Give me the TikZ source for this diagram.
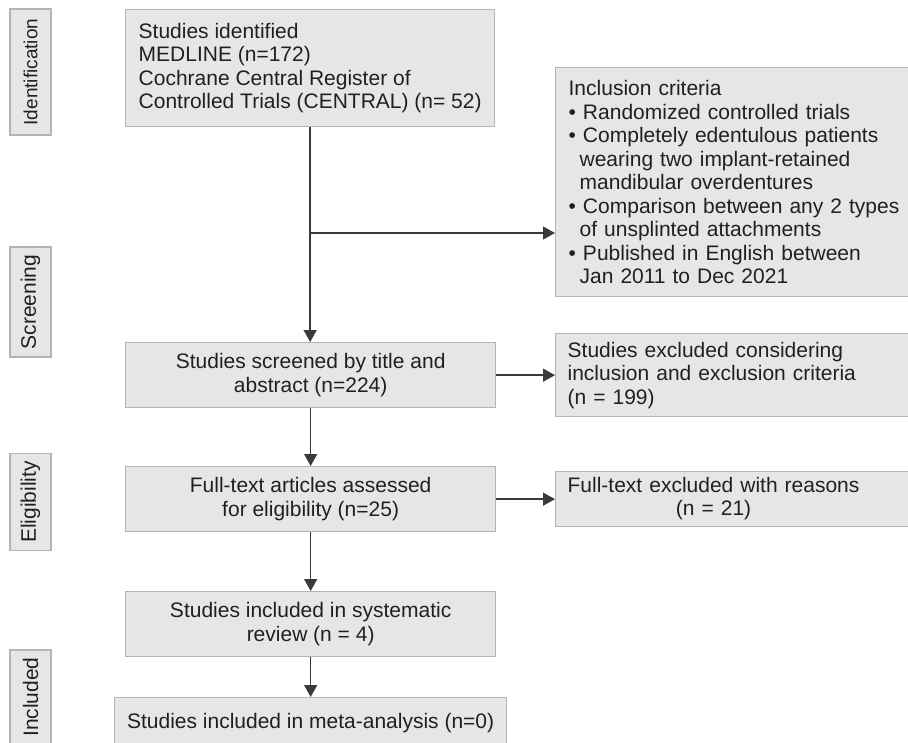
\documentclass[tikz,border=0pt]{standalone}
\usepackage{fontspec}
\setmainfont{Liberation Sans}
\usetikzlibrary{calc,arrows.meta,positioning}
\definecolor{boxfill}{HTML}{E6E6E8}
\definecolor{boxline}{HTML}{B4B4B4}
\definecolor{arrline}{HTML}{3A3A3A}
\definecolor{txtcol}{HTML}{231F20}

\begin{document}
\begin{tikzpicture} [x=1pt,y=-1pt,{box/.style={rectangle,draw=boxline,fill=boxfill,line width=1.3pt,text=txtcol,font=\fontsize{21}{23.5}\selectfont,inner sep=0pt,anchor=north west}},{phase/.style={box,anchor=center,rotate=90,minimum height=41}},{arr/.style={draw=arrline,line width=1.4pt,-{Triangle[length=12pt,width=13pt]}}}]
	%%frame of the page
	\useasboundingbox (0,0) rectangle (908,742);
	%%phase labels
	\node [phase,minimum width=126,font=\fontsize{19}{22}\selectfont] (lident) at (30.5,72) {Identification};
	\node [phase,minimum width=110] (lscreen) at (30.5,302) {Screening};
	\node [phase,minimum width=97] (lelig) at (30.5,502) {Eligibility};
	\node [phase,minimum width=94] (lincl) at (30.5,697) {Included};
	%%main column
	\node [box,minimum width=369,minimum height=117,align=left] (ident) at (125,9) {Studies identified\\MEDLINE (n=172)\\Cochrane Central Register of\\Controlled Trials (CENTRAL) (n= 52)};
	\node [box,minimum width=370,minimum height=65,align=center] (screen) at (125,342) {Studies screened by title and\\abstract (n=224)};
	\node [box,minimum width=370,minimum height=65,align=center] (full) at (125,466) {Full-text articles assessed\\for eligibility (n=25)};
	\node [box,minimum width=370,minimum height=65,align=center] (incsys) at (125,591) {Studies included in systematic\\review (n = 4)};
	\node [box,minimum width=392,minimum height=50] (meta) at (114,697) {Studies included in meta-analysis (n=0)};
	%%side column
	\node [box,text width=345,inner xsep=13,minimum height=229,align=left] (incl) at (555,67) {Inclusion criteria\\\textbullet\ Randomized controlled trials\\\textbullet\ Completely edentulous patients\\\hspace*{11pt}wearing two implant-retained\\\hspace*{11pt}mandibular overdentures\\\textbullet\ Comparison between any 2 types\\\hspace*{11pt}of unsplinted attachments\\\textbullet\ Published in English between\\\hspace*{11pt}Jan 2011 to Dec 2021};
	\node [box,text width=345,inner xsep=12,minimum height=83,align=left] (excl) at (555,333) {Studies excluded considering\\inclusion and exclusion criteria\\(n = 199)};
	\node [box,text width=345,inner xsep=12,minimum height=55,align=left] (ftex) at (555,471) {\begin{tabular}{@{}c@{}}Full-text excluded with reasons\\(n = 21)\end{tabular}};
	%%connectors
	\coordinate (splitlvl) at (0,233);
	\coordinate (split) at (ident.south |- splitlvl);
	\draw [arr] (ident.south) -- (ident.south |- screen.north);
	\draw [arr] (split) -- (split -| incl.west);
	\draw [arr] (screen.south) -- (screen.south |- full.north);
	\draw [arr] (screen.east) -- (screen.east -| excl.west);
	\draw [arr] (full.south) -- (full.south |- incsys.north);
	\draw [arr] (full.east) -- (full.east -| ftex.west);
	\draw [arr] (incsys.south) -- (incsys.south |- meta.north);
\end{tikzpicture}
\end{document}
